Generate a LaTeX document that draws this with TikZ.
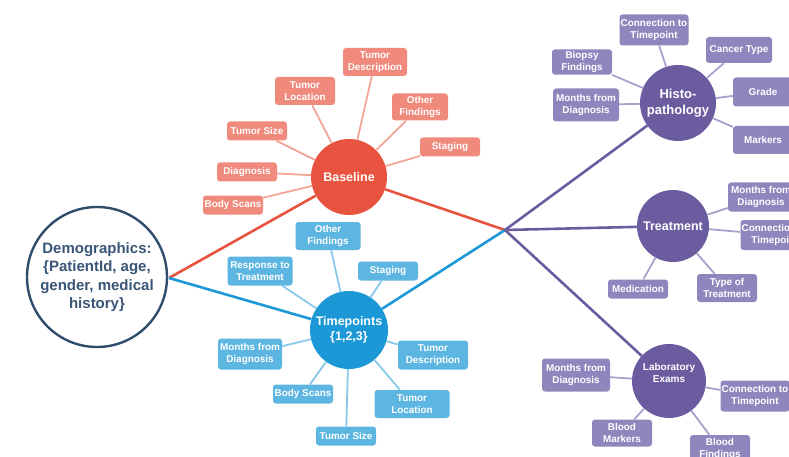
\documentclass[tikz,border=0pt]{standalone}
\usepackage{fontspec}
\setmainfont{Liberation Sans}
\definecolor{baseC}{HTML}{E8533F}
\definecolor{baseL}{HTML}{F08A7C}
\definecolor{baseT}{HTML}{F3A598}
\definecolor{tpC}{HTML}{1B98D5}
\definecolor{tpL}{HTML}{5DB6E1}
\definecolor{tpT}{HTML}{88C9E9}
\definecolor{puC}{HTML}{6B5CA0}
\definecolor{puL}{HTML}{9086BE}
\definecolor{puT}{HTML}{A9A1CC}
\definecolor{demoB}{HTML}{2F4D6B}
\definecolor{demoT}{HTML}{3A5676}
\begin{document}
\begin{tikzpicture}[x=1pt,y=-1pt,
  trunk/.style={line width=2.6pt},
  twig/.style={line width=1.8pt},
  leaf/.style={rounded corners=3pt, text=white, align=center,
    font=\fontsize{9.9}{12}\selectfont\bfseries,
    minimum width=60pt, minimum height=19pt, inner xsep=1pt, inner ysep=2pt},
  leafB/.style={leaf, fill=baseL},
  leafT/.style={leaf, fill=tpL},
  leafP/.style={leaf, fill=puL},
  hubnode/.style={circle, text=white, align=center, inner sep=0pt,
    font=\fontsize{12.5}{15}\selectfont\bfseries},
]
\useasboundingbox (0,0) rectangle (789,457);
\clip (0,0) rectangle (789,457);

% central topics
\node[circle, draw=demoB, line width=2.4pt, fill=white, minimum size=140pt,
  text=demoT, align=center, inner sep=0pt,
  font=\fontsize{15}{18.3}\selectfont\bfseries] (demo) at (97,277)
  {Demographics:\\\{PatientId, age,\\gender, medical\\history\}};
\coordinate (demoE) at (169,278);
\coordinate (hub) at (505,230);

\node[hubnode, fill=baseC, minimum size=76pt] (base) at (349,177) {Baseline};
\node[hubnode, fill=tpC, minimum size=78pt] (tp) at (349,330) {Timepoints\\\{1,2,3\}};
\node[hubnode, fill=puC, minimum size=76pt, font=\fontsize{13}{16}\selectfont\bfseries] (histo) at (678,103) {Histo-\\pathology};
\node[hubnode, fill=puC, minimum size=72pt] (treat) at (673,226) {Treatment};
\node[hubnode, fill=puC, minimum size=74pt, font=\fontsize{10}{12.5}\selectfont\bfseries] (lab) at (669,381) {Laboratory\\Exams\\[4pt]};

% main branches
\draw[trunk, baseC] (demoE) -- (base);
\draw[trunk, baseC] (base) -- (hub);
\draw[trunk, tpC] (demoE) -- (tp);
\draw[trunk, tpC] (tp) -- (hub);
\draw[trunk, puC] (hub) -- (histo);
\draw[trunk, puC] (hub) -- (treat);
\draw[trunk, puC] (hub) -- (lab);

% baseline attributes
\node[leafB, minimum width=64pt, minimum height=28pt] (b1) at (375,62) {Tumor\\Description};
\node[leafB, minimum height=28pt] (b2) at (305,91) {Tumor\\Location};
\node[leafB, minimum width=56pt, minimum height=27pt] (b3) at (420,107) {Other\\Findings};
\node[leafB] (b4) at (257,131) {Tumor Size};
\node[leafB] (b5) at (450,147) {Staging};
\node[leafB] (b6) at (247,172) {Diagnosis};
\node[leafB] (b7) at (233,205) {Body Scans};
\foreach \n in {b1,b2,b3,b4,b5,b6,b7}
  \draw[twig, baseT] (\n) -- (base);

% timepoint attributes
\node[leafT, minimum width=65pt, minimum height=28pt] (t1) at (328,236) {Other\\Findings};
\node[leafT, minimum width=65pt, minimum height=29pt] (t2) at (260,271) {Response to\\Treatment};
\node[leafT] (t3) at (388,271) {Staging};
\node[leafT, minimum width=64pt, minimum height=31pt] (t4) at (250,354) {Months from\\Diagnosis};
\node[leafT, minimum width=70pt, minimum height=29pt] (t5) at (433,355) {Tumor\\Description};
\node[leafT] (t6) at (303,394) {Body Scans};
\node[leafT, minimum width=75pt, minimum height=28pt] (t7) at (412,404) {Tumor\\Location};
\node[leafT] (t8) at (346,436) {Tumor Size};
\foreach \n in {t1,t2,t3,t4,t5,t6,t7,t8}
  \draw[twig, tpT] (\n) -- (tp);

% histopathology attributes
\node[leafP, minimum width=69pt, minimum height=31pt] (h1) at (654,30) {Connection to\\Timepoint};
\node[leafP, minimum height=25pt] (h2) at (582,62) {Biopsy\\Findings};
\node[leafP, minimum width=66pt, minimum height=26pt] (h3) at (739,50) {Cancer Type};
\node[leafP, minimum width=66pt, minimum height=33pt] (h4) at (586,105) {Months from\\Diagnosis};
\node[leafP, minimum width=60pt, minimum height=29pt] (h5) at (763,92) {Grade};
\node[leafP, minimum width=60pt, minimum height=28pt] (h6) at (763,140) {Markers};
\foreach \n in {h1,h2,h3,h4,h5,h6}
  \draw[twig, puT] (\n) -- (histo);

% treatment attributes
\node[leafP, minimum width=66pt, minimum height=29pt] (r1) at (761,197) {Months from\\Diagnosis};
\node[leafP, minimum width=69pt, minimum height=30pt] (r2) at (775,235) {Connection to\\Timepoint};
\node[leafP] (r3) at (638,289) {Medication};
\node[leafP, minimum height=28pt] (r4) at (727,288) {Type of\\Treatment};
\foreach \n in {r1,r2,r3,r4}
  \draw[twig, puT] (\n) -- (treat);

% laboratory attributes
\node[leafP, minimum width=68pt, minimum height=33pt] (l1) at (576,375) {Months from\\Diagnosis};
\node[leafP, minimum width=69pt, minimum height=31pt] (l2) at (755,396) {Connection to\\Timepoint};
\node[leafP, minimum height=27pt] (l3) at (622,433) {Blood\\Markers};
\node[leafP, minimum height=28pt] (l4) at (720,449) {Blood\\Findings};
\foreach \n in {l1,l2,l3,l4}
  \draw[twig, puT] (\n) -- (lab);
\end{tikzpicture}
\end{document}
